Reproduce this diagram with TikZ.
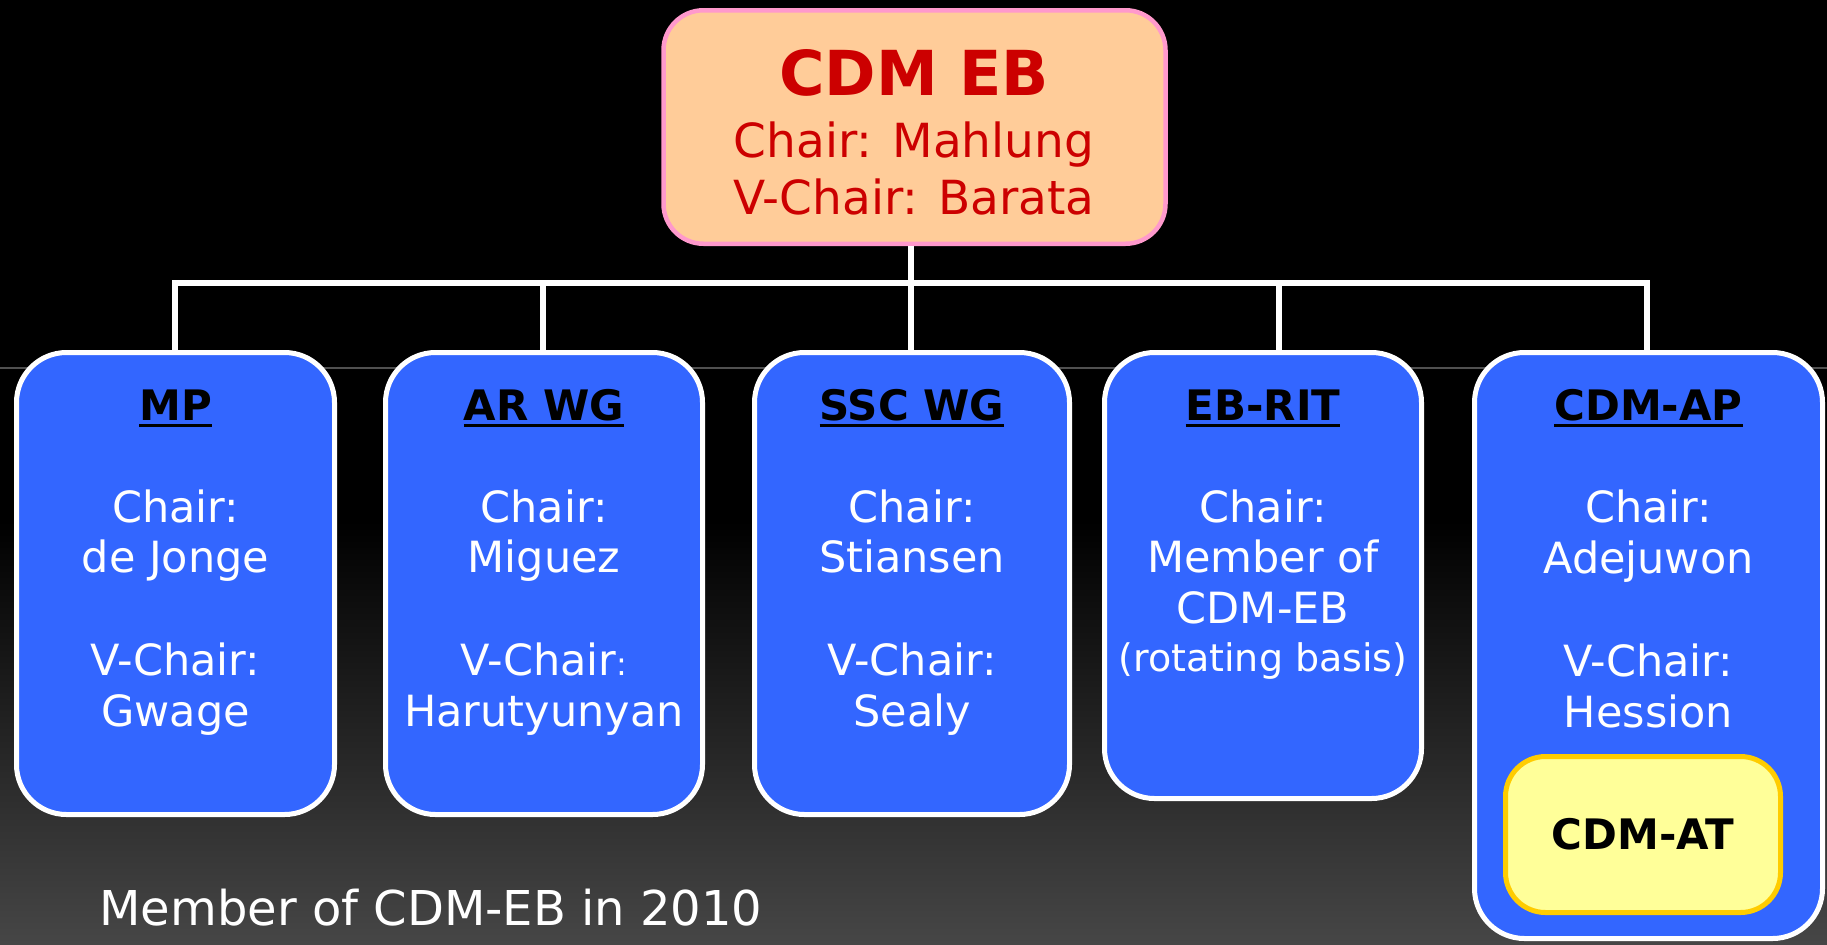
\documentclass[tikz,border=0pt]{standalone}
\usepackage{fontspec}
\setmainfont{DejaVu Sans}
\definecolor{boxblue}{HTML}{3366FF}
\definecolor{peach}{HTML}{FFCC99}
\definecolor{pinkline}{HTML}{FF99CC}
\definecolor{darkred}{HTML}{CC0000}
\definecolor{paleyellow}{HTML}{FFFF99}
\definecolor{goldline}{HTML}{FFCC00}
\definecolor{bottomgray}{HTML}{464646}
\definecolor{bandline}{HTML}{505050}
\newcommand\myul[1]{\setbox0\hbox{#1}\rlap{\rule[-3.5pt]{\wd0}{1.6pt}}\box0}
\tikzset{
  unitbox/.style={draw=white, line width=2.5pt, fill=boxblue, rounded corners=25pt, inner sep=0pt},
  ln/.style={anchor=base, text=white, font=\fontsize{21.5}{26}\selectfont, inner sep=0pt},
  smallln/.style={anchor=base, text=white, font=\fontsize{19}{23}\selectfont, inner sep=0pt},
  ttl/.style={anchor=base, text=black, font=\bfseries\fontsize{21}{25}\selectfont, inner sep=0pt},
  conn/.style={draw=white, line width=3pt},
}
\begin{document}
\begin{tikzpicture}[x=0.5pt,y=-0.5pt]
\useasboundingbox (0,0) rectangle (1827,944);
% background
\fill[black] (0,0) rectangle (1827,944);
\shade[top color=black, bottom color=bottomgray] (0,520) rectangle (1827,944);
\draw[bandline, line width=0.6pt] (0,368) -- (1827,368);

% boxes
\node[draw=pinkline, line width=2.25pt, fill=peach, rounded corners=20pt, inner sep=0pt,
      minimum width=251pt, minimum height=116.75pt] (top) at (914.5,127) {};
\node[unitbox, minimum width=159pt, minimum height=231pt] (mp) at (175.5,583.5) {};
\node[unitbox, minimum width=158.5pt, minimum height=231pt] (ar) at (544,583.5) {};
\node[unitbox, minimum width=157.5pt, minimum height=231pt] (ssc) at (912,583.5) {};
\node[unitbox, minimum width=158.5pt, minimum height=223pt] (eb) at (1263,575.5) {};
\node[unitbox, minimum width=174pt, minimum height=293pt] (ap) at (1648.5,645.5) {};
\node[draw=goldline, line width=2.5pt, fill=paleyellow, rounded corners=20pt, inner sep=0pt,
      minimum width=137.5pt, minimum height=78pt, font=\bfseries\fontsize{21}{25}\selectfont]
      (at) at (1643,834.5) {CDM-AT};

% connectors
\coordinate (j1) at (175,283);
\coordinate (j2) at (543,283);
\coordinate (j3) at (911,283);
\coordinate (j4) at (1279,283);
\coordinate (j5) at (1647,283);
\path[conn] (top.south -| j3) -- (j3);
\path[conn] (j1 |- mp.north) -- (j1) -- (j5) -- (j5 |- ap.north);
\path[conn] (j2) -- (j2 |- ar.north);
\path[conn] (j3) -- (j3 |- ssc.north);
\path[conn] (j4) -- (j4 |- eb.north);

% top box text
\node[anchor=base, inner sep=0pt, text=darkred, font=\bfseries\fontsize{31}{37}\selectfont] (t1) at (914,95) {CDM EB};
\node[anchor=base, inner sep=0pt, text=darkred, font=\fontsize{23.5}{28}\selectfont] (t2) at (914,157) {Chair: Mahlung};
\node[anchor=base, inner sep=0pt, text=darkred, font=\fontsize{23.5}{28}\selectfont] (t3) at (914,214) {V-Chair: Barata};

% MP
\node[ttl] (mp0) at (175.5,420) {\myul{MP}};
\node[ln] (mp1) at (175.5,522) {Chair:};
\node[ln] (mp2) at (175.5,572) {de Jonge};
\node[ln] (mp3) at (175.5,675) {V-Chair:};
\node[ln] (mp4) at (175.5,726) {Gwage};
% AR WG
\node[ttl] (ar0) at (544,420) {\myul{AR WG}};
\node[ln] (ar1) at (544,522) {Chair:};
\node[ln] (ar2) at (544,572) {Miguez};
\node[ln] (ar3) at (544,675) {V-Chair{\fontsize{16}{19}\selectfont :}};
\node[ln] (ar4) at (544,726) {Harutyunyan};
% SSC WG
\node[ttl] (ssc0) at (912,420) {\myul{SSC WG}};
\node[ln] (ssc1) at (912,522) {Chair:};
\node[ln] (ssc2) at (912,572) {Stiansen};
\node[ln] (ssc3) at (912,675) {V-Chair:};
\node[ln] (ssc4) at (912,726) {Sealy};
% EB-RIT
\node[ttl] (eb0) at (1263,420) {\myul{EB-RIT}};
\node[ln] (eb1) at (1263,522) {Chair:};
\node[ln] (eb2) at (1263,572) {Member of};
\node[ln] (eb3) at (1263,623) {CDM-EB};
\node[smallln] (eb4) at (1263,671) {(rotating basis)};
% CDM-AP
\node[ttl] (ap0) at (1648.5,420) {\myul{CDM-AP}};
\node[ln] (ap1) at (1648.5,522) {Chair:};
\node[ln] (ap2) at (1648.5,573) {Adejuwon};
\node[ln] (ap3) at (1648.5,676) {V-Chair:};
\node[ln] (ap4) at (1648.5,727) {Hession};

% footer
\node[anchor=base west, inner sep=0pt, text=white, font=\fontsize{24}{29}\selectfont] (foot) at (99,925) {Member of CDM-EB in 2010};
\end{tikzpicture}
\end{document}
